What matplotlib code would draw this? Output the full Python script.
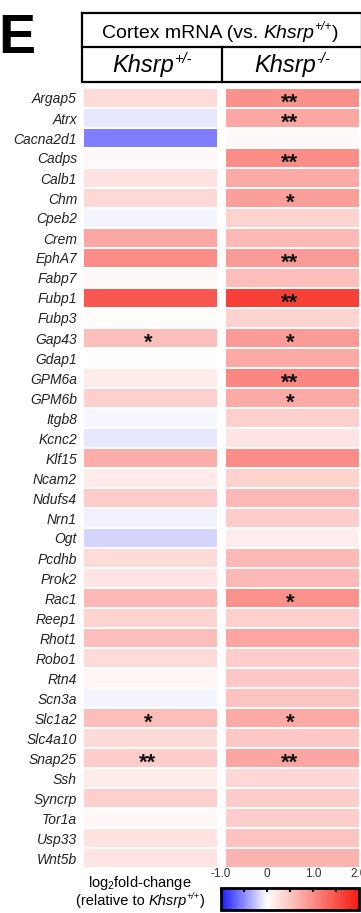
import numpy as np
import matplotlib
matplotlib.use("Agg")
import matplotlib.pyplot as plt
from matplotlib.colors import LinearSegmentedColormap, Normalize
from matplotlib.ticker import FixedLocator

plt.rcParams['font.family'] = ['Liberation Sans', 'DejaVu Sans']
plt.rcParams['mathtext.fontset'] = 'custom'
plt.rcParams['mathtext.rm'] = 'Liberation Sans'
plt.rcParams['mathtext.it'] = 'Liberation Sans:italic'

genes = ["Argap5", "Atrx", "Cacna2d1", "Cadps", "Calb1", "Chm", "Cpeb2", "Crem",
         "EphA7", "Fabp7", "Fubp1", "Fubp3", "Gap43", "Gdap1", "GPM6a", "GPM6b",
         "Itgb8", "Kcnc2", "Klf15", "Ncam2", "Ndufs4", "Nrn1", "Ogt", "Pcdhb",
         "Prok2", "Rac1", "Reep1", "Rhot1", "Robo1", "Rtn4", "Scn3a", "Slc1a2",
         "Slc4a10", "Snap25", "Ssh", "Syncrp", "Tor1a", "Usp33", "Wnt5b"]

# log2 fold-change vs. Khsrp+/+
het_lfc = [0.32, -0.10, -0.56, 0.06, 0.25, 0.34, -0.04, 0.76,
           1.00, 0.06, 1.45, 0.02, 0.57, 0.01, 0.17, 0.41,
           -0.03, -0.10, 0.70, 0.18, 0.44, -0.06, -0.18, 0.32,
           0.24, 0.61, 0.39, 0.56, 0.32, 0.08, -0.04, 0.56,
           0.32, 0.44, 0.17, 0.41, 0.06, 0.25, 0.22]
ko_lfc = [0.96, 0.76, 0.06, 1.00, 0.74, 0.83, 0.39, 0.61,
          0.87, 0.56, 1.66, 0.39, 0.87, 0.74, 1.05, 0.74,
          0.41, 0.24, 1.00, 0.39, 0.61, 0.44, 0.15, 0.61,
          0.61, 0.96, 0.41, 0.78, 0.44, 0.48, 0.52, 0.74,
          0.48, 0.78, 0.34, 0.44, 0.44, 0.52, 0.66]

# significance marks
het_sig = {"Gap43": "*", "Slc1a2": "*", "Snap25": "**"}
ko_sig = {"Argap5": "**", "Atrx": "**", "Cadps": "**", "Chm": "*", "EphA7": "**",
          "Fubp1": "**", "Gap43": "*", "GPM6a": "**", "GPM6b": "*", "Rac1": "*",
          "Slc1a2": "*", "Snap25": "**"}

cbar_ticks = [-1.0, 0.0, 1.0, 2.0]
cbar_ticklabels = ["-1.0", "0", "1.0", "2.0"]

W, H = 361, 913
fig = plt.figure(figsize=(W / 100, H / 100), dpi=100)
renderer = fig.canvas.get_renderer()


def fx(px):
    return px / W


def fy(py):
    return 1 - py / H


cmap = LinearSegmentedColormap.from_list(
    "lfc", [(0.0, "#1a1aff"), (1 / 3, "#ffffff"), (1.0, "#f51a0f")])
norm = Normalize(vmin=-1.0, vmax=2.0)

# heatmap
n = len(genes)
gap = 9 / 133
left_px, right_px, top_px = 84, 359, 88
bottom_px = top_px + 20 * n
ax = fig.add_axes([fx(left_px), fy(bottom_px), fx(right_px) - fx(left_px),
                   fy(top_px) - fy(bottom_px)])
ypos = np.arange(n)
for col, (vals, sig) in enumerate([(het_lfc, het_sig), (ko_lfc, ko_sig)]):
    x0 = col * (1 + gap)
    ax.barh(ypos, [1] * n, left=x0, height=0.9,
            color=cmap(norm(np.array(vals))), edgecolor="none")
    for i, g in enumerate(genes):
        if g in sig:
            ax.text(x0 + 0.48, i + 0.52, sig[g], ha="center", va="baseline",
                    fontsize=16, fontweight="bold", color="#111111")
ax.set_xlim(0, 2 + gap)
ax.set_ylim(n - 0.5, -0.5)
ax.set_yticks(ypos)
ax.set_yticklabels(genes, fontstyle="italic", fontsize=10, color="#222222")
ax.tick_params(axis="y", length=0, pad=5)
ax.set_xticks([])
for s in ax.spines.values():
    s.set_visible(False)

# overlay for header and panel letter
ov = fig.add_axes([0, 0, 1, 1])
ov.set_xlim(0, W)
ov.set_ylim(H, 0)
ov.axis("off")


def sup_text(xc, yb, base, sup, size, base_style="normal", pre="", post=""):
    """Draw pre + base + superscript + post, centred at xc on baseline yb."""
    parts = []
    if pre:
        parts.append((pre, "normal", size, 0))
    parts.append((base, base_style, size, 0))
    parts.append((sup, base_style, size * 0.62, -size * 0.55))
    if post:
        parts.append((post, "normal", size, 0))
    arts = [ov.text(0, yb + dy, txt, fontsize=sz, fontstyle=style,
                    ha="left", va="baseline")
            for txt, style, sz, dy in parts]
    widths = [a.get_window_extent(renderer).width for a in arts]
    x = xc - sum(widths) / 2
    for a, w in zip(arts, widths):
        a.set_x(x)
        x += w
    return arts


ov.text(-2, 53, "E", fontsize=40, fontweight="bold", ha="left", va="baseline")
lw = 1.6
ov.plot([82, 362, 362, 82, 82], [13, 13, 82, 82, 13], color="black", lw=lw,
        solid_joinstyle="miter", clip_on=False)
ov.plot([82, 362], [47, 47], color="black", lw=lw)
ov.plot([222, 222], [47, 82], color="black", lw=lw)
sup_text(220, 38, "Khsrp", "+/+", 14, "italic", pre="Cortex mRNA (vs. ",
         post=")")
sup_text(152, 72, "Khsrp", "+/-", 17, "italic")
sup_text(292, 72, "Khsrp", "-/-", 17, "italic")

# colorbar legend
ov.text(140, 887, r"log$_2$fold-change", fontsize=10.5, ha="center",
        va="baseline")
sup_text(140, 905, "Khsrp", "+/+", 10.5, "italic", pre="(relative to ",
         post=")")

cax = fig.add_axes([fx(221), fy(910), fx(359) - fx(221), fy(888) - fy(910)])
sm = matplotlib.cm.ScalarMappable(norm=norm, cmap=cmap)
cb = fig.colorbar(sm, cax=cax, orientation="horizontal")
cb.outline.set_linewidth(2)
cax.xaxis.set_ticks_position("top")
cax.xaxis.set_label_position("top")
cb.set_ticks(cbar_ticks)
cb.set_ticklabels(cbar_ticklabels)
cax.xaxis.set_minor_locator(FixedLocator([-0.5, 0.5, 1.5]))
cax.tick_params(axis="x", which="both", direction="in", length=3, width=1.5,
                labelsize=8.5, pad=6, colors="black", labelcolor="#333333")

fig.savefig("out.png", dpi=100)
